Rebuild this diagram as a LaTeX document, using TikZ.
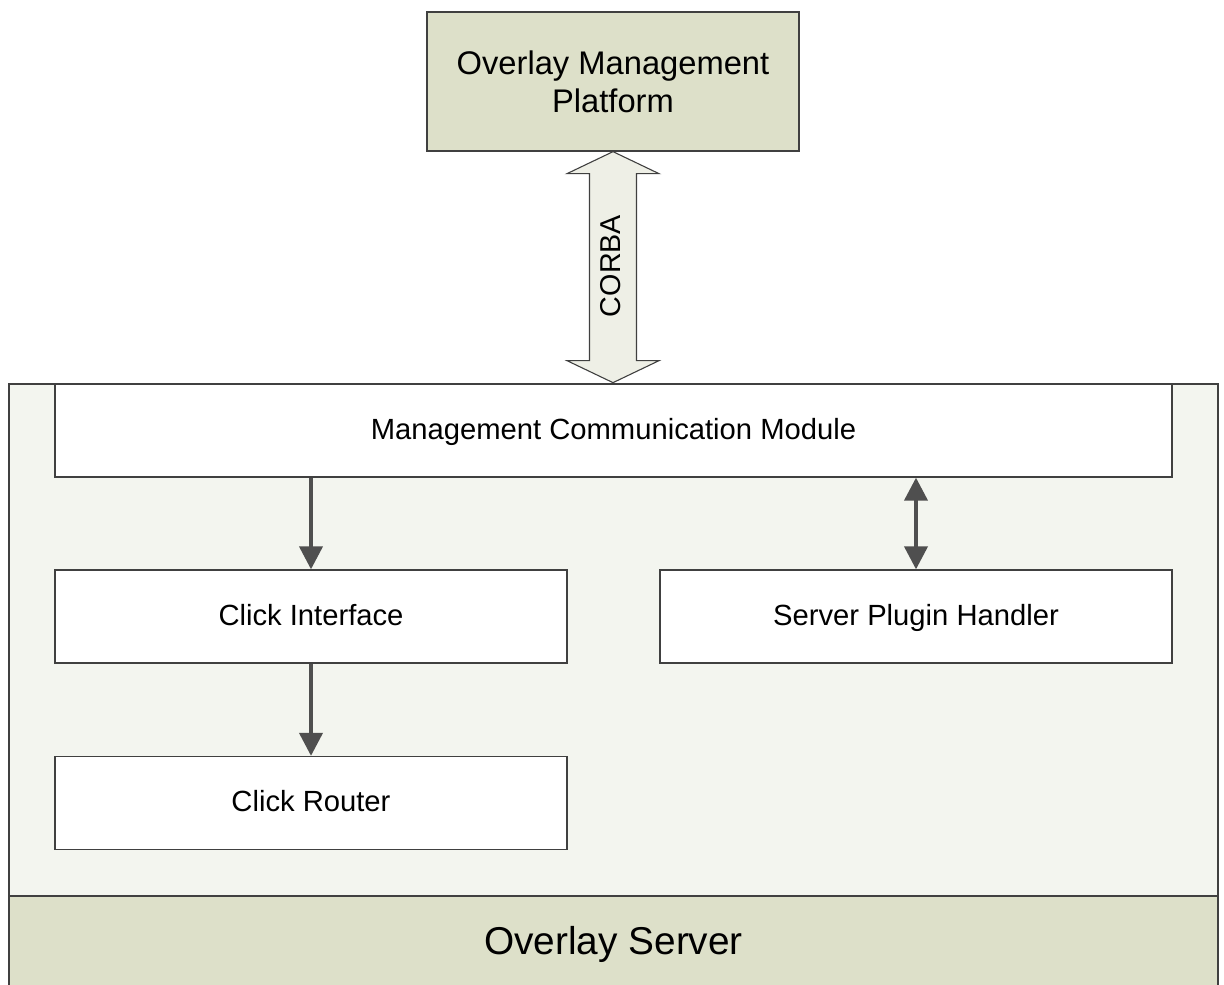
\documentclass[tikz,border=0pt]{standalone}
\usepackage{fontspec}
\setmainfont{Liberation Sans}
\usetikzlibrary{arrows.meta,calc}
\definecolor{olive}{HTML}{DDE0C9}
\definecolor{pale}{HTML}{F3F5EF}
\definecolor{arrowfill}{HTML}{EEEFE6}
\definecolor{edge}{HTML}{404040}
\definecolor{conn}{HTML}{4F4F4F}
\begin{document}
\begin{tikzpicture}[x=1pt,y=-1pt,
  box/.style={draw=edge,line width=1.3pt,rectangle,inner sep=0pt,anchor=center},
  whitebox/.style={box,fill=white,minimum width=512pt,minimum height=93pt,
    text height=22pt,text depth=5pt,font=\fontsize{29.2}{34}\selectfont},
  conn/.style={draw=conn,line width=4pt,-{Triangle[length=23pt,width=23pt]}},
  dconn/.style={draw=conn,line width=4pt,{Triangle[length=23pt,width=23pt]}-{Triangle[length=23pt,width=23pt]}}]
\useasboundingbox (0,0) rectangle (1224,985);
% top platform
\node[box,fill=olive,minimum width=372pt,minimum height=139pt,align=center,
  font=\fontsize{32.7}{38}\selectfont] (omp) at (613,81.5) {Overlay Management\\Platform};
% outer server
\node[box,fill=pale,minimum width=1209pt,minimum height=606pt] (server) at (613.5,687) {};
\node[box,fill=olive,minimum width=1209pt,minimum height=93pt,line width=1.8pt,
  text height=30pt,text depth=7pt,font=\fontsize{38.8}{46}\selectfont] (band) at (613.5,942.5) {Overlay Server};
% CORBA arrow
\coordinate (ctip) at (omp.south);
\coordinate (cbot) at ($(ctip)+(0,231)$);
\filldraw[fill=arrowfill,draw=edge,line width=1.1pt]
  (ctip) -- ($(ctip)+(46,22)$) -- ($(ctip)+(23.5,22)$) -- ($(cbot)+(23.5,-22)$)
  -- ($(cbot)+(46,-22)$) -- (cbot) -- ($(cbot)+(-46,-22)$) -- ($(cbot)+(-23.5,-22)$)
  -- ($(ctip)+(-23.5,22)$) -- ($(ctip)+(-46,22)$) -- cycle;
\node[rotate=90,font=\fontsize{28.7}{34}\selectfont,inner sep=0pt] (corba) at (611,266) {CORBA};
% inner modules
\node[whitebox,minimum width=1117pt] (mcm) at (613.5,430.5) {Management Communication Module};
\node[whitebox] (ci) at (311,616.5) {Click Interface};
\node[whitebox] (sph) at (916,616.5) {Server Plugin Handler};
\node[whitebox] (cr) at (311,803) {Click Router};
% connectors
\draw[conn] (mcm.south -| ci.north) -- (ci.north);
\draw[conn] (ci.south) -- (cr.north);
\draw[dconn] (mcm.south -| sph.north) -- (sph.north);
\end{tikzpicture}
\end{document}
